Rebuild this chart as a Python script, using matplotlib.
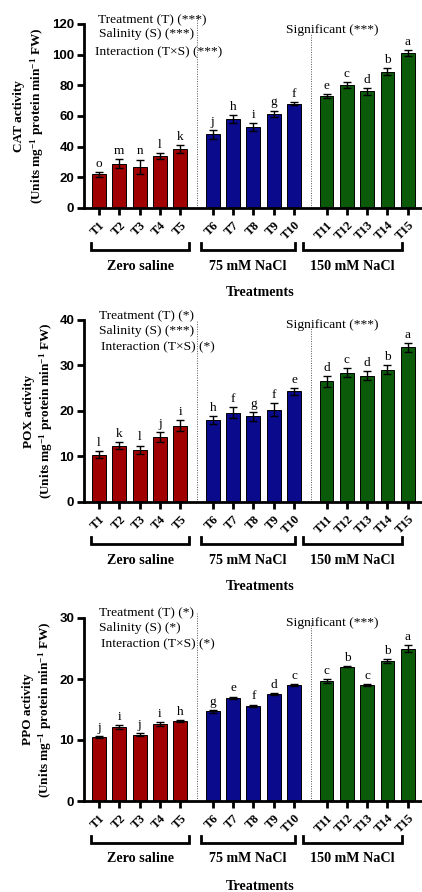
import matplotlib
matplotlib.use("Agg")
import matplotlib.pyplot as plt
import matplotlib.transforms as mtransforms
import numpy as np

plt.rcParams['font.family'] = ['Liberation Serif', 'DejaVu Serif']
plt.rcParams['mathtext.fontset'] = 'custom'
plt.rcParams['mathtext.rm'] = 'Liberation Serif:bold'
plt.rcParams['mathtext.it'] = 'Liberation Serif:bold:italic'
plt.rcParams['mathtext.bf'] = 'Liberation Serif:bold'

# ---- data ----
treatments = [f"T{i}" for i in range(1, 16)]
groups = ["Zero saline", "75 mM NaCl", "150 mM NaCl"]

cat_mean = [22, 29, 27, 34, 38.5, 48, 58, 53, 61.5, 68, 73, 80, 76, 89, 101]
cat_err = [1.5, 3, 4.5, 2, 2.5, 3, 2.5, 2.5, 2, 1, 1.5, 2, 2, 2, 2]
cat_letters = ["o", "m", "n", "l", "k", "j", "h", "i", "g", "f", "e", "c", "d", "b", "a"]

pox_mean = [10.4, 12.4, 11.5, 14.2, 16.8, 18.0, 19.6, 18.8, 20.3, 24.3, 26.5, 28.4, 27.8, 29.1, 34.0]
pox_err = [0.8, 0.8, 0.9, 1.1, 1.2, 0.9, 1.2, 1.0, 1.4, 0.8, 1.2, 1.0, 1.0, 1.0, 1.0]
pox_letters = ["l", "k", "l", "j", "i", "h", "f", "g", "f", "e", "d", "c", "d", "b", "a"]

ppo_mean = [10.5, 12.1, 10.9, 12.6, 13.1, 14.7, 16.9, 15.6, 17.5, 19.0, 19.7, 22.0, 19.0, 23.0, 25.0]
ppo_err = [0.2, 0.3, 0.2, 0.3, 0.2, 0.2, 0.2, 0.2, 0.2, 0.15, 0.3, 0.1, 0.15, 0.3, 0.6]
ppo_letters = ["j", "i", "j", "i", "h", "g", "e", "f", "d", "c", "c", "b", "c", "b", "a"]

cat_stats = ["Treatment (T) (***)", "Salinity (S) (***)", "Interaction (T×S) (***)"]
pox_stats = ["Treatment (T) (*)", "Salinity (S) (***)", "Interaction (T×S) (*)"]
ppo_stats = ["Treatment (T) (*)", "Salinity (S) (*)", "Interaction (T×S) (*)"]
sig_text = "Significant (***)"

colors = ["#a00000", "#0a0a8c", "#0a5a0a"]

W, H = 422, 892
fig = plt.figure(figsize=(W / 100, H / 100), dpi=100)

# bar positions: 5 per group with a gap between salinity levels
pos = np.array([i + (i // 5) * 0.6 for i in range(15)])
bar_colors = [colors[i // 5] for i in range(15)]


def px(x, y):
    return x / W, 1 - y / H


def panel(top_px, bot_px, mean, err, letters, ymax, step, name, stats, stat_y, sig_y,
          vline_tops, label_x):
    left_px = 84
    ax = fig.add_axes([left_px / W, 1 - bot_px / H, (W - left_px) / W, (bot_px - top_px) / H])
    ax.bar(pos, mean, width=0.68, color=bar_colors, edgecolor="black", linewidth=0.7,
           zorder=2)
    ax.errorbar(pos, mean, yerr=err, fmt="none", ecolor="black", elinewidth=1.0,
                capsize=2.8, capthick=1.0, zorder=3)
    off = ymax * 0.012
    for x, m, e, l in zip(pos, mean, err, letters):
        ax.text(x, m + e + off, l, ha="center", va="bottom", fontsize=9.5,
                clip_on=False)
    ax.set_xlim(-0.74, 15.9)
    ax.set_ylim(0, ymax)
    ax.set_yticks(np.arange(0, ymax + 0.1, step))
    ax.set_yticklabels([f"{int(v)}" for v in np.arange(0, ymax + 0.1, step)],
                       fontfamily="Liberation Sans", fontweight="bold", fontsize=9.5)
    ax.set_xticks(pos)
    ax.set_xticklabels(treatments, rotation=45, ha="right", rotation_mode="anchor",
                       fontweight="bold", fontsize=9)
    ax.tick_params(axis="both", width=2, length=5, pad=2)
    ax.tick_params(axis="x", pad=3)
    for s in ["top", "right"]:
        ax.spines[s].set_visible(False)
    for s in ["left", "bottom"]:
        ax.spines[s].set_linewidth(2)
    ax.set_ylabel(name + "\n(Units mg$^{-1}$ protein min$^{-1}$ FW)", fontweight="bold",
                  fontsize=9.5, linespacing=1.2, va="center")
    ax.yaxis.set_label_coords((label_x - left_px) / (W - left_px), 0.5)

    # dotted separators between salinity levels
    for xv, yt in zip([4.8, 10.42], vline_tops):
        ax.plot([xv, xv], [0, yt], transform=mtransforms.blended_transform_factory(
            ax.transData, ax.transAxes), color="#555555", linestyle=(0, (1, 1.5)),
            linewidth=0.7, clip_on=False, zorder=1)

    # group brackets
    tr = mtransforms.blended_transform_factory(ax.transData, fig.transFigure)
    br_y = bot_px + 42
    spans = [(-0.39, 4.43), (5.02, 9.66), (10.05, 14.93)]
    for (a, b), g in zip(spans, groups):
        ys = [1 - (br_y - 7) / H, 1 - br_y / H, 1 - br_y / H, 1 - (br_y - 7) / H]
        ax.plot([a, a, b, b], ys, transform=tr, color="black", linewidth=2,
                clip_on=False, solid_joinstyle="miter")
        ax.text((a + b) / 2, 1 - (br_y + 16) / H, g, transform=tr, ha="center",
                va="center", fontweight="bold", fontsize=10.2)
    fig.text(*px(260, bot_px + 85), "Treatments", ha="center", va="center",
             fontweight="bold", fontsize=10.2)

    for t, (x, y) in zip(stats, stat_y):
        fig.text(*px(x, y), t, ha="left", va="center", fontsize=9.7)
    fig.text(*px(286, sig_y), sig_text, ha="left", va="center", fontsize=9.7)
    return ax


panel(24, 208, cat_mean, cat_err, cat_letters, 120, 20, "CAT activity", cat_stats,
      [(98, 20), (99, 34), (95, 52)], 30, [1.05, 0.95], 29.5)
panel(320, 502, pox_mean, pox_err, pox_letters, 40, 10, "POX activity", pox_stats,
      [(99, 316), (99, 331), (101, 347)], 325, [1.0, 0.956], 39)
panel(618, 801, ppo_mean, ppo_err, ppo_letters, 30, 10, "PPO activity", ppo_stats,
      [(99, 613), (99, 628), (101, 644)], 623, [1.03, 0.97], 38)

fig.savefig("out.png", dpi=100)
